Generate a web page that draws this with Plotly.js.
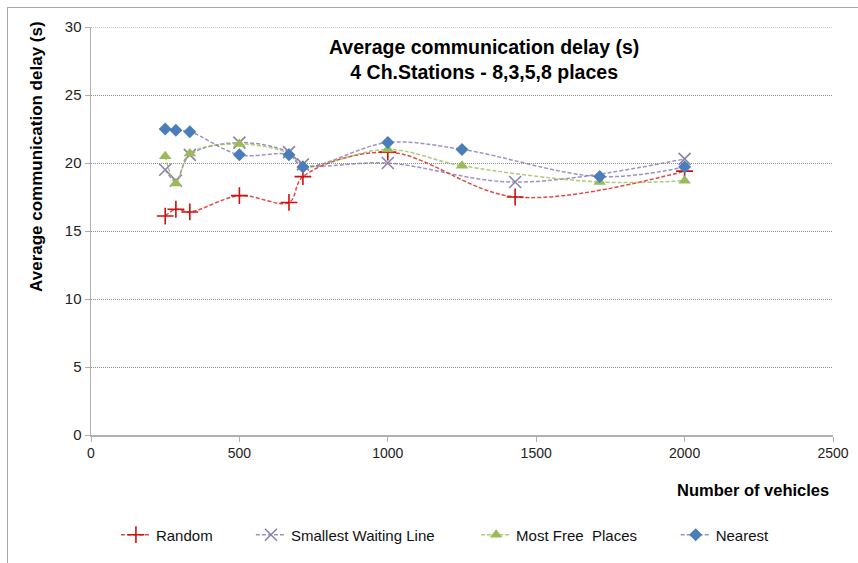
<!DOCTYPE html>
<html>
<head>
<meta charset="utf-8">
<script src="https://cdn.plot.ly/plotly-3.0.1.min.js"></script>
<style>
html,body{margin:0;padding:0;background:#fff;}
#wrap{position:relative;width:858px;height:563px;overflow:hidden;}
#chart{width:858px;height:563px;}
#frame{position:absolute;left:7px;top:7px;width:860px;height:570px;border-left:1px solid #a8a8a8;border-top:1px solid #a8a8a8;pointer-events:none;}
</style>
</head>
<body>
<div id="wrap"><div id="chart"></div><div id="frame"></div></div>
<script>
const FONT = "'Liberation Sans Narrow', 'Arial Narrow', 'Liberation Sans', Arial, sans-serif";

const randomX = [250, 286, 333, 500, 667, 714, 1000, 1429, 2000];
const randomY = [16.1, 16.6, 16.4, 17.6, 17.1, 19.0, 20.8, 17.5, 19.4];

const swlX = [250, 286, 333, 500, 667, 714, 1000, 1429, 2000];
const swlY = [19.5, 18.7, 20.6, 21.5, 20.8, 19.9, 20.0, 18.6, 20.3];

const mfpX = [250, 286, 333, 500, 667, 714, 1000, 1250, 1714, 2000];
const mfpY = [20.5, 18.5, 20.7, 21.4, 20.7, 19.8, 21.0, 19.8, 18.6, 18.7];

const nearX = [250, 286, 333, 500, 667, 714, 1000, 1250, 1714, 2000];
const nearY = [22.5, 22.4, 22.3, 20.6, 20.6, 19.7, 21.5, 21.0, 19.0, 19.7];

const names = ['Random', 'Smallest Waiting Line', 'Most Free  Places', 'Nearest'];
const legendIds = ['legend', 'legend2', 'legend3', 'legend4'];

function tr(i, x, y, lineColor, sym, mColor, mSize, mLine) {
  return {
    x: x, y: y, name: names[i], type: 'scatter', mode: 'lines+markers', legend: legendIds[i],
    line: {color: lineColor, width: 1.5, dash: '4px,2px', shape: 'spline', smoothing: 1},
    marker: {symbol: sym, size: mSize, color: mColor, line: {color: mColor, width: mLine}}
  };
}

const data = [
  tr(0, randomX, randomY, 'rgba(220,40,40,0.85)', 'cross-thin', '#d01010', 12, 1.6),
  tr(1, swlX, swlY, 'rgba(128,110,170,0.75)', 'x-thin', '#8a82aa', 12, 1.6),
  tr(2, mfpX, mfpY, 'rgba(155,190,90,0.8)', 'triangle-up', '#9bbb59', 11, 0),
  tr(3, nearX, nearY, 'rgba(128,110,170,0.75)', 'diamond', '#4a7ebb', 10, 0)
];

function leg(x) {
  return {orientation: 'h', x: x, xanchor: 'left', y: -0.245, yanchor: 'middle',
          font: {family: FONT, size: 15, color: '#111'}, bgcolor: 'rgba(0,0,0,0)'};
}

const layout = {
  width: 858, height: 563,
  margin: {l: 91, r: 25, t: 27, b: 123},
  paper_bgcolor: '#fff', plot_bgcolor: '#fff',
  font: {family: FONT, size: 13, color: '#222'},
  showlegend: true,
  legend: leg(0.0336),
  legend2: leg(0.2155),
  legend3: leg(0.519),
  legend4: leg(0.788),
  xaxis: {range: [0, 2500], dtick: 500, tick0: 0, showgrid: false, zeroline: false,
          showline: true, linecolor: '#b0b0b0', linewidth: 1.5, ticks: 'outside', ticklen: 5,
          tickcolor: '#b0b0b0', tickfont: {family: FONT, size: 14, color: '#222'}, fixedrange: true},
  yaxis: {range: [0, 30], dtick: 5, tick0: 0, showgrid: true, gridcolor: '#8c8c8c', griddash: '1px,1px',
          gridwidth: 1, zeroline: false, showline: true, linecolor: '#b0b0b0', linewidth: 1.5,
          ticks: 'outside', ticklen: 5, tickcolor: '#b0b0b0',
          tickfont: {family: FONT, size: 15, color: '#222'}, fixedrange: true},
  shapes: [
    {type: 'line', xref: 'paper', yref: 'y', x0: 0, x1: 1, y0: 30, y1: 30,
     line: {color: '#8c8c8c', width: 1, dash: '1px,1px'}}
  ],
  annotations: [
    {text: '<b>Average communication delay (s)</b><br><b>4 Ch.Stations - 8,3,5,8 places</b>',
     xref: 'paper', yref: 'paper', x: 0.53, y: 0.92, xanchor: 'center', yanchor: 'middle',
     showarrow: false, font: {family: FONT, size: 19.5, color: '#000'}},
    {text: '<b>Average communication delay (s)</b>', textangle: -90,
     xref: 'paper', yref: 'paper', x: -0.0728, y: 0.684, xanchor: 'center', yanchor: 'middle',
     showarrow: false, font: {family: FONT, size: 17, color: '#000'}},
    {text: '<b>Number of vehicles</b>',
     xref: 'paper', yref: 'paper', x: 1, xshift: -2, y: -0.136, xanchor: 'right', yanchor: 'middle',
     showarrow: false, font: {family: FONT, size: 16.5, color: '#000'}}
  ]
};

Plotly.newPlot('chart', data, layout, {displayModeBar: false, staticPlot: true});
</script>
</body>
</html>
